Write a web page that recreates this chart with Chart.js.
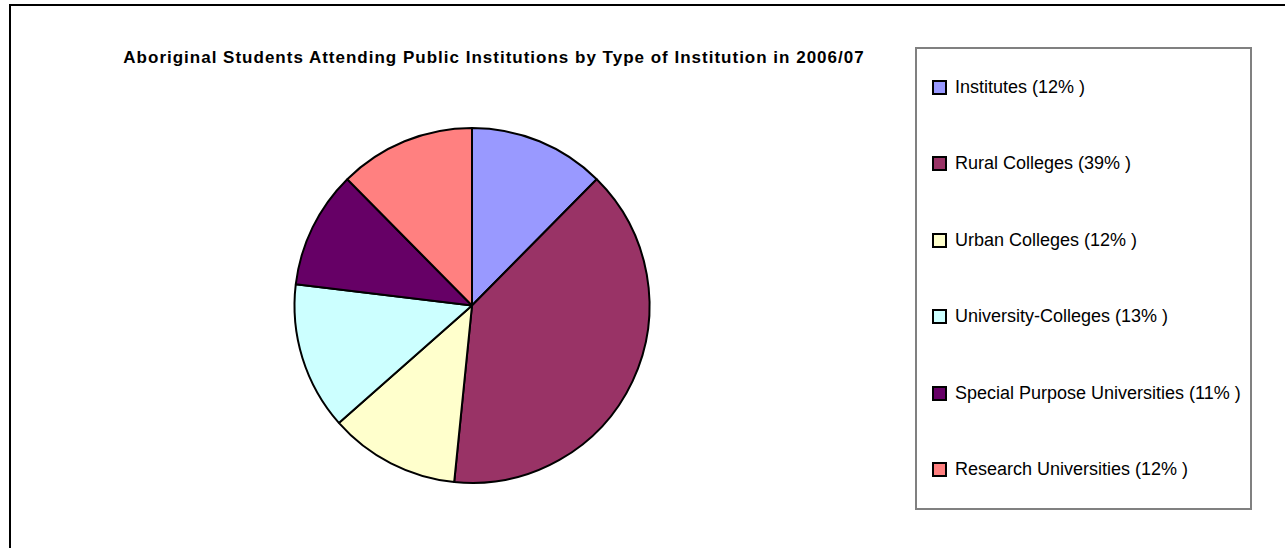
<!DOCTYPE html>
<html>
<head>
<meta charset="utf-8">
<style>
  body { margin: 0; background: #fff; font-family: "Liberation Sans", Arial, sans-serif; }
  #frame { position: absolute; left: 9px; top: 4px; width: 1400px; height: 700px; border: 2px solid #000; }
  #title { position: absolute; left: 0; top: 48px; width: 988px; line-height: 20px; text-align: center;
           font-weight: bold; font-size: 17px; letter-spacing: 1px; color: #000; }
  #chartBox { position: absolute; left: 0; top: 0; width: 944px; height: 548px; }
  #legend { position: absolute; left: 915px; top: 47px; width: 333px; height: 459px;
            border: 2px solid #808080; background: #fff;
            display: flex; flex-direction: column; justify-content: space-around; }
  #legend .item { display: flex; align-items: center; padding-left: 15px; font-size: 18px; color: #000; }
  #legend .swatch { width: 11px; height: 11px; border: 2px solid #000; margin-right: 8px; }
</style>
</head>
<body>
<div id="frame"></div>
<div id="title">Aboriginal Students Attending Public Institutions by Type of Institution in 2006/07</div>
<div id="chartBox"><canvas id="pieChart"></canvas></div>
<div id="legend"></div>

<script src="https://cdn.jsdelivr.net/npm/chart.js"></script>
<script>
// share of aboriginal students by institution type (percent)
var categories = ['Institutes', 'Rural Colleges', 'Urban Colleges', 'University-Colleges', 'Special Purpose Universities', 'Research Universities'];
var shares = [12.4, 39.2, 11.9, 13.4, 10.7, 12.4];
var shareLabels = ['12%', '39%', '12%', '13%', '11%', '12%'];
var sliceColors = ['#9999FF', '#993366', '#FFFFCC', '#CCFFFF', '#660066', '#FF8080'];

// builds the boxed legend from the chart's own legend items
var htmlLegend = {
    id: 'htmlLegend',
    afterUpdate: function(chart) {
        var box = document.getElementById('legend');
        box.innerHTML = '';
        var items = chart.options.plugins.legend.labels.generateLabels(chart);
        items.forEach(function(item, i) {
            var row = document.createElement('div');
            row.className = 'item';
            var sw = document.createElement('span');
            sw.className = 'swatch';
            sw.style.background = item.fillStyle;
            var txt = document.createElement('span');
            txt.textContent = item.text + ' (' + shareLabels[i] + ' )';
            row.appendChild(sw);
            row.appendChild(txt);
            box.appendChild(row);
        });
    }
};

var ctx = document.getElementById('pieChart').getContext('2d');
var myPie = new Chart(ctx, {
    type: 'pie',
    data: {
        labels: categories,
        datasets: [{
            data: shares,
            backgroundColor: sliceColors,
            borderColor: '#000',
            borderWidth: 2
        }]
    },
    options: {
        responsive: true,
        maintainAspectRatio: false,
        animation: false,
        events: [],
        layout: { padding: { top: 127, bottom: 64 } },
        plugins: {
            legend: { display: false },
            title: { display: false },
            tooltip: { enabled: false }
        }
    },
    plugins: [htmlLegend]
});
</script>
</body>
</html>
